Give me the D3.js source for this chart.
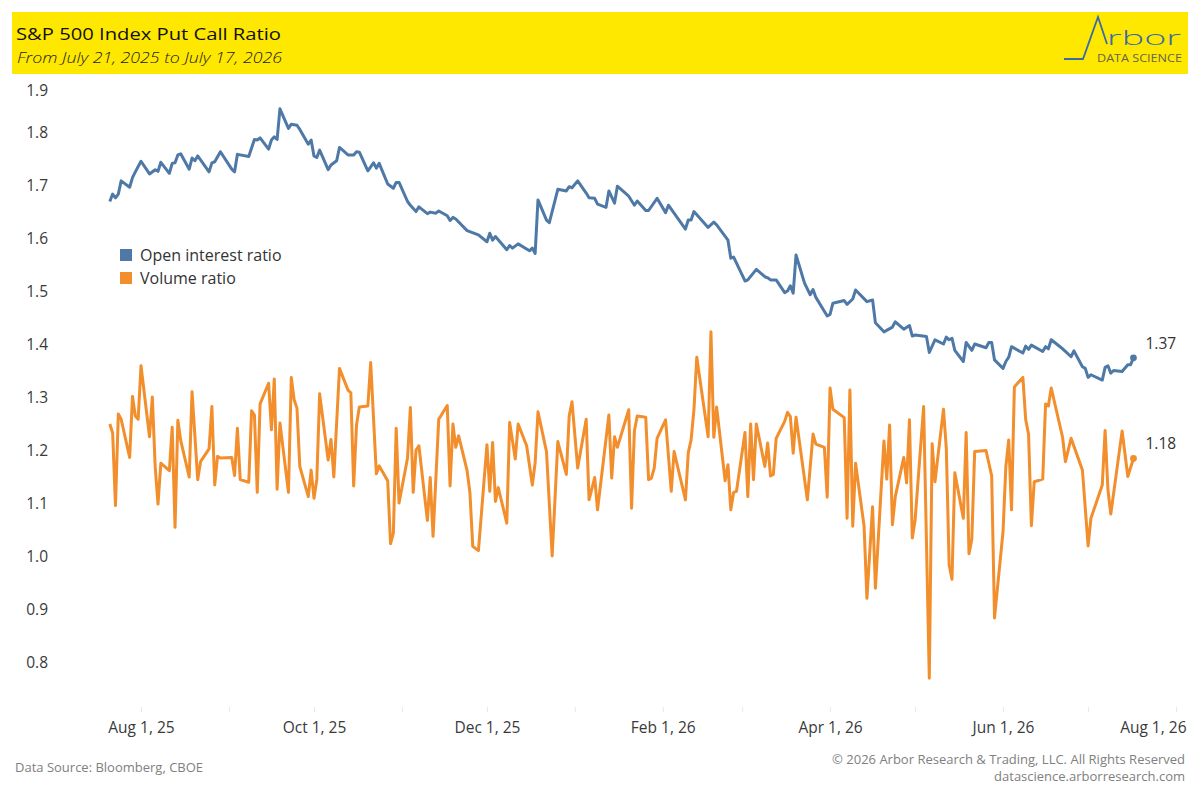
<!DOCTYPE html>
<html>
<head>
<meta charset="utf-8">
<script src="https://cdn.jsdelivr.net/npm/d3@7"></script>
<style>
  body { margin: 0; background: #fff; font-family: "Open Sans", sans-serif; }
  .chart { width: 1200px; height: 800px; }
</style>
</head>
<body>
<div class="chart"></div>
<script>
// open interest put/call ratio
const oiDates = [
  "2025-07-21","2025-07-22","2025-07-23","2025-07-24","2025-07-25","2025-07-28","2025-07-29","2025-07-30","2025-08-01",
  "2025-08-04","2025-08-06","2025-08-07","2025-08-08","2025-08-11","2025-08-12","2025-08-13","2025-08-14","2025-08-15",
  "2025-08-18","2025-08-19","2025-08-20","2025-08-21","2025-08-25","2025-08-26","2025-08-27","2025-08-29","2025-09-02",
  "2025-09-03","2025-09-04","2025-09-08","2025-09-10","2025-09-11","2025-09-12","2025-09-15","2025-09-16","2025-09-17",
  "2025-09-18","2025-09-19","2025-09-22","2025-09-23","2025-09-25","2025-09-26","2025-09-29","2025-09-30","2025-10-01",
  "2025-10-02","2025-10-03","2025-10-06","2025-10-07","2025-10-09","2025-10-10","2025-10-13","2025-10-15","2025-10-16",
  "2025-10-17","2025-10-20","2025-10-22","2025-10-23","2025-10-24","2025-10-27","2025-10-29","2025-10-30","2025-10-31",
  "2025-11-03","2025-11-04","2025-11-06","2025-11-07","2025-11-10","2025-11-11","2025-11-13","2025-11-14","2025-11-17",
  "2025-11-18","2025-11-19","2025-11-20","2025-11-24","2025-11-28","2025-12-01","2025-12-02","2025-12-03","2025-12-04",
  "2025-12-08","2025-12-09","2025-12-10","2025-12-12","2025-12-16","2025-12-17","2025-12-18","2025-12-19","2025-12-22",
  "2025-12-23","2025-12-26","2025-12-29","2025-12-30","2025-12-31","2026-01-02","2026-01-05","2026-01-06","2026-01-08",
  "2026-01-09","2026-01-12","2026-01-13","2026-01-15","2026-01-16","2026-01-20","2026-01-22","2026-01-23","2026-01-26",
  "2026-01-27","2026-01-30","2026-02-02","2026-02-03","2026-02-05","2026-02-09","2026-02-10","2026-02-11","2026-02-12",
  "2026-02-17","2026-02-19","2026-02-20","2026-02-24","2026-02-25","2026-02-26","2026-03-02","2026-03-03","2026-03-06",
  "2026-03-09","2026-03-10","2026-03-11","2026-03-13","2026-03-16","2026-03-17","2026-03-18","2026-03-19","2026-03-20",
  "2026-03-23","2026-03-25","2026-03-26","2026-03-27","2026-03-31","2026-04-01","2026-04-02","2026-04-06","2026-04-07",
  "2026-04-09","2026-04-10","2026-04-14","2026-04-16","2026-04-17","2026-04-20","2026-04-23","2026-04-24","2026-04-27",
  "2026-04-29","2026-04-30","2026-05-01","2026-05-05","2026-05-06","2026-05-08","2026-05-11","2026-05-12","2026-05-13",
  "2026-05-14","2026-05-15","2026-05-18","2026-05-19","2026-05-21","2026-05-22","2026-05-26","2026-05-27","2026-05-28",
  "2026-05-29","2026-06-01","2026-06-02","2026-06-03","2026-06-04","2026-06-08","2026-06-09","2026-06-10","2026-06-11",
  "2026-06-15","2026-06-16","2026-06-17","2026-06-18","2026-06-22","2026-06-23","2026-06-25","2026-06-26","2026-06-29",
  "2026-06-30","2026-07-01","2026-07-02","2026-07-06","2026-07-07","2026-07-08","2026-07-09","2026-07-10","2026-07-13",
  "2026-07-15","2026-07-16","2026-07-17"
];
const oiValues = [
  1.665,1.679,1.672,1.679,1.704,1.692,1.710,1.721,1.741,
  1.717,1.725,1.722,1.739,1.718,1.737,1.738,1.753,1.755,
  1.726,1.747,1.742,1.751,1.721,1.738,1.740,1.759,1.726,
  1.721,1.754,1.750,1.782,1.781,1.785,1.764,1.781,1.787,
  1.782,1.840,1.803,1.811,1.809,1.801,1.773,1.781,1.751,
  1.748,1.762,1.725,1.734,1.742,1.767,1.753,1.753,1.759,
  1.758,1.723,1.738,1.728,1.737,1.698,1.690,1.701,1.701,
  1.665,1.658,1.646,1.655,1.642,1.645,1.643,1.647,1.638,
  1.629,1.635,1.632,1.610,1.602,1.589,1.605,1.592,1.599,
  1.574,1.582,1.577,1.585,1.572,1.577,1.567,1.668,1.630,
  1.625,1.688,1.685,1.693,1.691,1.704,1.681,1.672,1.671,
  1.660,1.654,1.685,1.662,1.694,1.675,1.658,1.666,1.648,
  1.648,1.671,1.644,1.658,1.643,1.613,1.630,1.630,1.646,
  1.616,1.626,1.621,1.592,1.558,1.560,1.515,1.517,1.537,
  1.523,1.521,1.517,1.517,1.493,1.496,1.506,1.492,1.564,
  1.511,1.489,1.499,1.484,1.449,1.452,1.473,1.478,1.471,
  1.481,1.498,1.476,1.479,1.436,1.419,1.428,1.438,1.424,
  1.431,1.411,1.413,1.410,1.380,1.404,1.396,1.409,1.404,
  1.407,1.384,1.363,1.399,1.384,1.396,1.389,1.399,1.399,
  1.366,1.350,1.363,1.371,1.391,1.379,1.392,1.386,1.394,
  1.382,1.391,1.387,1.404,1.387,1.382,1.372,1.383,1.353,
  1.350,1.333,1.338,1.328,1.352,1.355,1.341,1.346,1.344,
  1.357,1.357,1.370
];

// volume put/call ratio
const volDates = [
  "2025-07-21","2025-07-22","2025-07-23","2025-07-24","2025-07-25","2025-07-28","2025-07-29","2025-07-30","2025-07-31",
  "2025-08-01","2025-08-04","2025-08-05","2025-08-06","2025-08-07","2025-08-08","2025-08-11","2025-08-12","2025-08-13",
  "2025-08-14","2025-08-15","2025-08-18","2025-08-19","2025-08-21","2025-08-22","2025-08-25","2025-08-26","2025-08-27",
  "2025-08-28","2025-08-29","2025-09-02","2025-09-03","2025-09-04","2025-09-05","2025-09-08","2025-09-09","2025-09-10",
  "2025-09-11","2025-09-12","2025-09-15","2025-09-16","2025-09-17","2025-09-18","2025-09-19","2025-09-22","2025-09-23",
  "2025-09-24","2025-09-25","2025-09-26","2025-09-29","2025-09-30","2025-10-01","2025-10-02","2025-10-03","2025-10-06",
  "2025-10-07","2025-10-08","2025-10-10","2025-10-13","2025-10-14","2025-10-15","2025-10-16","2025-10-17","2025-10-20",
  "2025-10-21","2025-10-23","2025-10-24","2025-10-27","2025-10-28","2025-10-29","2025-10-30","2025-10-31","2025-11-03",
  "2025-11-04","2025-11-05","2025-11-06","2025-11-07","2025-11-10","2025-11-11","2025-11-12","2025-11-14","2025-11-17",
  "2025-11-18","2025-11-19","2025-11-20","2025-11-21","2025-11-24","2025-11-25","2025-11-26","2025-11-28","2025-12-01",
  "2025-12-02","2025-12-03","2025-12-04","2025-12-05","2025-12-08","2025-12-09","2025-12-11","2025-12-12","2025-12-15",
  "2025-12-17","2025-12-18","2025-12-19","2025-12-22","2025-12-24","2025-12-26","2025-12-29","2025-12-30","2025-12-31",
  "2026-01-02","2026-01-05","2026-01-06","2026-01-08","2026-01-09","2026-01-13","2026-01-14","2026-01-15","2026-01-16",
  "2026-01-20","2026-01-21","2026-01-22","2026-01-23","2026-01-26","2026-01-27","2026-01-28","2026-01-29","2026-01-30",
  "2026-02-02","2026-02-04","2026-02-05","2026-02-09","2026-02-10","2026-02-11","2026-02-12","2026-02-13","2026-02-17",
  "2026-02-18","2026-02-19","2026-02-20","2026-02-23","2026-02-24","2026-02-25","2026-02-26","2026-02-27","2026-03-02",
  "2026-03-03","2026-03-04","2026-03-05","2026-03-06","2026-03-09","2026-03-10","2026-03-11","2026-03-12","2026-03-13",
  "2026-03-16","2026-03-17","2026-03-18","2026-03-19","2026-03-20","2026-03-24","2026-03-26","2026-03-27","2026-03-30",
  "2026-03-31","2026-04-01","2026-04-02","2026-04-06","2026-04-07","2026-04-08","2026-04-09","2026-04-10","2026-04-13",
  "2026-04-14","2026-04-16","2026-04-17","2026-04-20","2026-04-21","2026-04-22","2026-04-23","2026-04-24","2026-04-27",
  "2026-04-28","2026-04-29","2026-04-30","2026-05-01","2026-05-04","2026-05-06","2026-05-07","2026-05-08","2026-05-11",
  "2026-05-12","2026-05-13","2026-05-14","2026-05-15","2026-05-18","2026-05-19","2026-05-20","2026-05-21","2026-05-22",
  "2026-05-26","2026-05-28","2026-05-29","2026-06-01","2026-06-02","2026-06-03","2026-06-04","2026-06-05","2026-06-08",
  "2026-06-09","2026-06-10","2026-06-11","2026-06-12","2026-06-15","2026-06-16","2026-06-17","2026-06-18","2026-06-22",
  "2026-06-23","2026-06-25","2026-06-29","2026-07-01","2026-07-02","2026-07-06","2026-07-07","2026-07-08","2026-07-09",
  "2026-07-13","2026-07-15","2026-07-17"
];
const volValues = [
  1.245,1.228,1.091,1.264,1.254,1.182,1.297,1.260,1.254,
  1.355,1.221,1.296,1.165,1.094,1.171,1.157,1.239,1.050,
  1.252,1.214,1.145,1.306,1.140,1.174,1.198,1.278,1.130,
  1.184,1.181,1.182,1.148,1.237,1.140,1.135,1.270,1.262,
  1.116,1.283,1.322,1.234,1.330,1.122,1.247,1.116,1.333,
  1.291,1.275,1.165,1.108,1.158,1.105,1.140,1.302,1.177,
  1.216,1.145,1.350,1.309,1.304,1.128,1.243,1.277,1.279,
  1.361,1.151,1.166,1.138,1.019,1.039,1.237,1.096,1.181,
  1.276,1.116,1.196,1.204,1.063,1.144,1.033,1.254,1.280,
  1.128,1.245,1.201,1.223,1.157,1.115,1.014,1.006,1.206,
  1.118,1.210,1.099,1.125,1.058,1.248,1.179,1.245,1.204,
  1.130,1.172,1.268,1.193,0.996,1.212,1.150,1.260,1.287,
  1.162,1.254,1.102,1.144,1.083,1.262,1.143,1.221,1.201,
  1.272,1.086,1.232,1.260,1.258,1.140,1.143,1.162,1.218,
  1.253,1.118,1.193,1.102,1.191,1.215,1.272,1.371,1.221,
  1.419,1.220,1.277,1.138,1.168,1.083,1.116,1.118,1.229,
  1.108,1.245,1.140,1.245,1.165,1.209,1.147,1.150,1.218,
  1.250,1.267,1.259,1.190,1.258,1.102,1.226,1.207,1.201,
  1.107,1.313,1.273,1.257,1.067,1.309,1.052,1.171,1.052,
  0.916,1.089,0.935,1.213,1.141,1.243,1.055,1.108,1.182,
  1.134,1.253,1.030,1.064,1.278,0.765,1.208,1.136,1.273,
  1.199,0.979,0.952,1.153,1.067,1.229,1.000,1.028,1.193,
  1.195,1.147,0.879,1.042,1.165,1.215,1.083,1.315,1.333,
  1.253,1.226,1.053,1.136,1.141,1.283,1.279,1.313,1.220,
  1.174,1.218,1.158,1.015,1.067,1.130,1.233,1.121,1.075,
  1.232,1.146,1.180
];

const seriesNames = ["Open interest ratio", "Volume ratio"];
const seriesColors = ["#4e79a7", "#f28e2b"];
const yTicks = [0.8, 0.9, 1.0, 1.1, 1.2, 1.3, 1.4, 1.5, 1.6, 1.7, 1.8, 1.9];
const xTicks = ["2025-08-01","2025-10-01","2025-12-01","2026-02-01","2026-04-01","2026-06-01","2026-08-01"];

const titleText = "S&P 500 Index Put Call Ratio";
const subtitleText = "From July 21, 2025 to July 17, 2026";

function PutCallChart(root) {
    const width = 1200, height = 800;
    const parseDate = d3.utcParse("%Y-%m-%d");
    const tickFont = "15.5px";
    const textColor = "#3a3a3a";

    const series = [
        { name: seriesNames[0], color: seriesColors[0],
          data: oiDates.map((d, i) => ({ date: parseDate(d), value: oiValues[i] })) },
        { name: seriesNames[1], color: seriesColors[1],
          data: volDates.map((d, i) => ({ date: parseDate(d), value: volValues[i] })) }
    ];

    const svg = d3.select(document.querySelector(`.${root}`))
        .append("svg")
        .attr("width", width)
        .attr("height", height)
        .style("font-family", "'Open Sans', sans-serif");

    // header band
    const header = svg.append("g").attr("class", "header");
    header.append("rect")
        .attr("x", 12).attr("y", 12)
        .attr("width", 1176).attr("height", 62)
        .attr("fill", "#ffe800");
    header.append("text")
        .attr("x", 16).attr("y", 39.5)
        .style("font-size", "17px")
        .style("font-weight", 500)
        .attr("fill", "#111")
        .attr("textLength", 265)
        .attr("lengthAdjust", "spacingAndGlyphs")
        .text(titleText);
    header.append("text")
        .attr("x", 17).attr("y", 62.5)
        .style("font-size", "15px")
        .style("font-style", "italic")
        .style("font-weight", 300)
        .attr("fill", "#222")
        .attr("textLength", 265)
        .attr("lengthAdjust", "spacingAndGlyphs")
        .text(subtitleText);

    // logo
    const logo = header.append("g").attr("class", "logo");
    logo.append("path")
        .attr("d", "M1064,59 L1083,59 L1098,17 L1107,44")
        .attr("fill", "none")
        .attr("stroke", "#3b6aa8")
        .attr("stroke-width", 1.8);
    logo.append("text")
        .attr("x", 1107).attr("y", 44.5)
        .style("font-size", "20px")
        .style("font-weight", 300)
        .attr("fill", "#3b6aa8")
        .attr("textLength", 74)
        .attr("lengthAdjust", "spacingAndGlyphs")
        .text("rbor");
    logo.append("text")
        .attr("x", 1097).attr("y", 62)
        .style("font-size", "10px")
        .attr("fill", "#66644c")
        .attr("textLength", 85)
        .attr("lengthAdjust", "spacingAndGlyphs")
        .text("DATA SCIENCE");

    // scales
    const x = d3.scaleUtc()
        .domain([parseDate("2025-08-01"), parseDate("2026-08-01")])
        .range([141, 1176]);
    const y = d3.scaleLinear()
        .domain([0.726, 1.9])
        .range([699, 77]);

    // axes (no lines, labels only)
    const yAxis = svg.append("g")
        .attr("class", "yaxis")
        .attr("transform", "translate(56,3)")
        .call(d3.axisLeft(y).tickValues(yTicks).tickSize(0).tickPadding(8).tickFormat(d3.format(".1f")));
    yAxis.select(".domain").remove();
    yAxis.selectAll("text")
        .style("font-size", tickFont)
        .style("font-family", "'Open Sans', sans-serif")
        .attr("fill", textColor);
    // top label is pushed inside the pane
    yAxis.selectAll(".tick").filter(d => d === 1.9).select("text").attr("dy", "0.98em");

    // faint month ticks along the bottom
    svg.append("g")
        .attr("class", "minor")
        .attr("transform", "translate(0,707)")
        .call(d3.axisBottom(x).ticks(d3.utcMonth.every(1)).tickSize(5).tickFormat(""))
        .call(g => g.select(".domain").remove())
        .call(g => g.selectAll("line").attr("stroke", "#e8e8e8"));

    const fmt = d3.utcFormat("%b %-d, %y");
    const xAxis = svg.append("g")
        .attr("class", "xaxis")
        .attr("transform", "translate(0,722)")
        .call(d3.axisBottom(x).tickValues(xTicks.map(parseDate)).tickSize(0).tickPadding(0).tickFormat(fmt));
    xAxis.select(".domain").remove();
    xAxis.selectAll("text")
        .style("font-size", tickFont)
        .style("font-family", "'Open Sans', sans-serif")
        .attr("fill", textColor);
    xAxis.selectAll(".tick").filter((d, i, n) => i === n.length - 1).select("text")
        .attr("text-anchor", "end")
        .attr("dx", 10);

    // lines
    const line = d3.line()
        .x(d => x(d.date))
        .y(d => y(d.value));
    const lines = svg.append("g").attr("class", "lines");
    lines.selectAll(".line")
        .data(series.slice().reverse())
        .enter()
        .append("path")
        .attr("class", "line")
        .attr("d", d => line(d.data))
        .style("stroke", d => d.color)
        .style("stroke-width", 3)
        .style("stroke-linejoin", "round")
        .style("fill", "none");

    // end points + labels
    const ends = svg.append("g").attr("class", "ends");
    series.forEach(s => {
        const last = s.data[s.data.length - 1];
        ends.append("circle")
            .attr("cx", x(last.date))
            .attr("cy", y(last.value))
            .attr("r", 3.4)
            .attr("fill", s.color);
        ends.append("text")
            .attr("x", x(last.date) + 12)
            .attr("y", y(last.value) - 9)
            .style("font-size", tickFont)
            .attr("fill", "#333")
            .text(d3.format(".2f")(last.value));
    });

    // legend
    const legend = svg.append("g").attr("class", "legend")
        .attr("transform", "translate(120,249)");
    const item = legend.selectAll(".item")
        .data(series)
        .enter()
        .append("g")
        .attr("transform", (d, i) => `translate(0,${i * 23})`);
    item.append("rect")
        .attr("width", 12).attr("height", 12)
        .attr("fill", d => d.color);
    item.append("text")
        .attr("x", 20).attr("y", 11.5)
        .style("font-size", "16px")
        .attr("fill", "#333")
        .text(d => d.name);

    // footer
    const footer = svg.append("g").attr("class", "footer")
        .style("font-size", "13px")
        .attr("fill", "#808080");
    footer.append("text").attr("x", 15).attr("y", 772).text("Data Source: Bloomberg, CBOE");
    footer.append("text").attr("x", 1185).attr("y", 764).attr("text-anchor", "end")
        .text("\u00a9 2026 Arbor Research & Trading, LLC. All Rights Reserved");
    footer.append("text").attr("x", 1185).attr("y", 781).attr("text-anchor", "end")
        .text("datascience.arborresearch.com");
}

PutCallChart("chart");
</script>
</body>
</html>
